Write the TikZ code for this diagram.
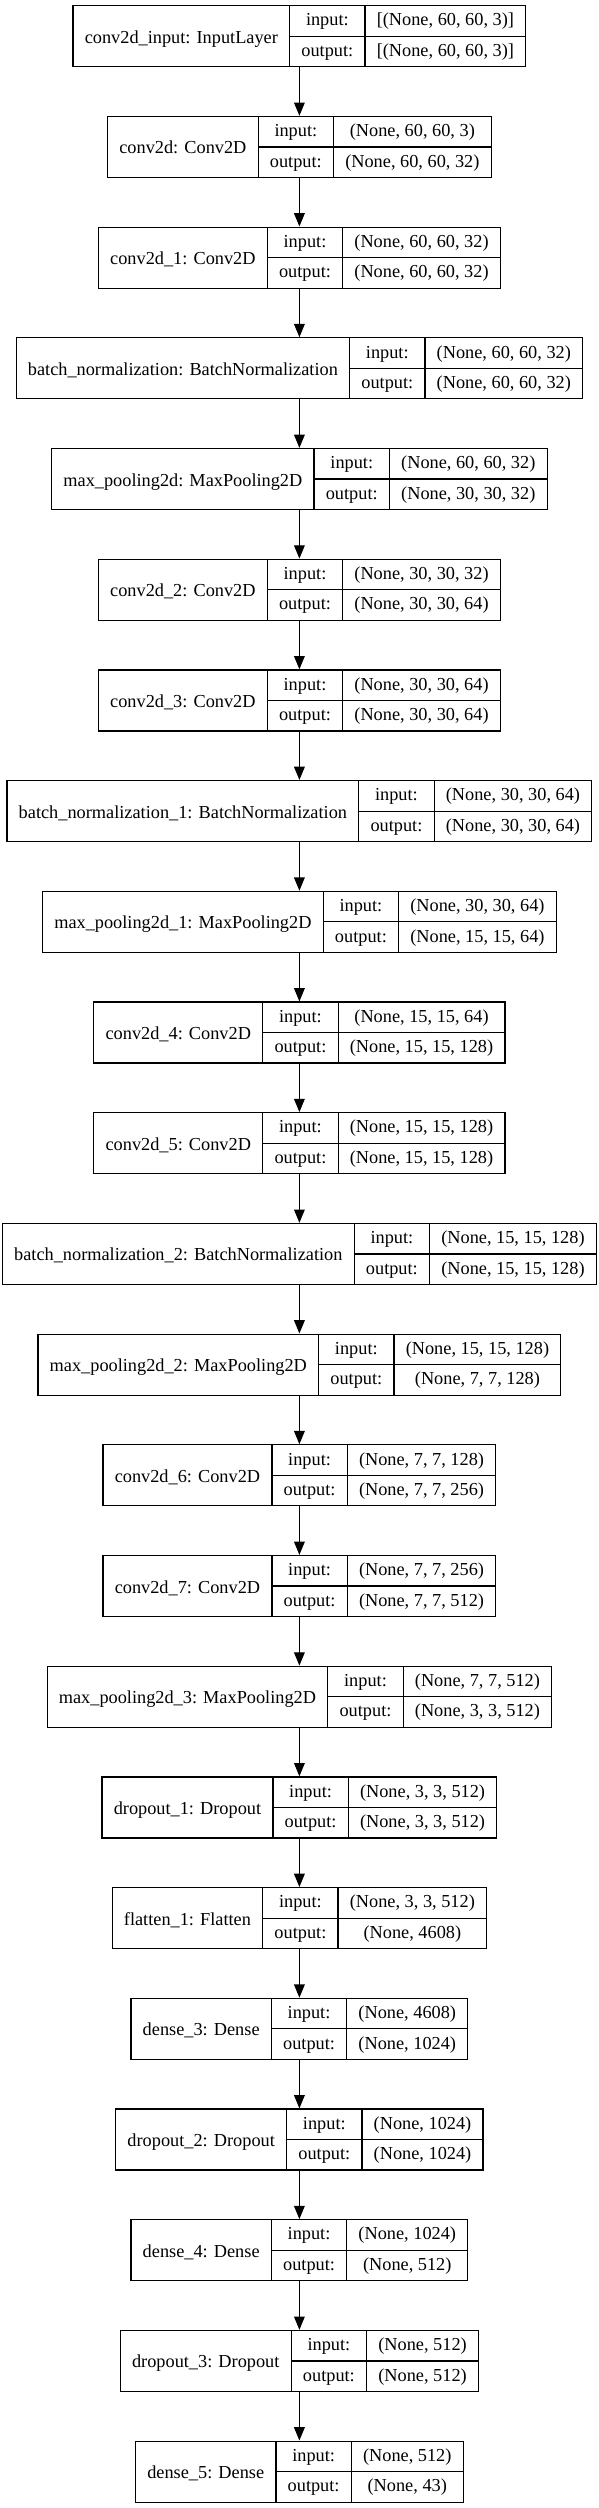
\documentclass[tikz,border=0pt]{standalone}
\usepackage{fontspec}
\setmainfont{Liberation Serif}
\usetikzlibrary{arrows.meta}
\newcommand\lf{\fontsize{18.3pt}{22pt}\selectfont}
\newdimen\lwC \newdimen\lwD
\def\padw{23.5}
\def\cx{299.4}
\tikzset{
  box/.style={draw, line width=1.2pt, minimum height=61pt, inner sep=0pt},
  cellline/.style={line width=1.2pt},
  txt/.style={font=\lf, inner sep=0pt, text height=10pt, text depth=0pt},
  arr/.style={line width=1.2pt, -{Triangle[length=13.3pt,width=10.7pt]}}
}
\newcommand\measurelayer[5]{%
  \setbox0=\hbox{\lf #3}\expandafter\xdef\csname wA#1\endcsname{\the\wd0}%
  \setbox0=\hbox{\lf #4}\lwC=\wd0
  \setbox0=\hbox{\lf #5}\lwD=\wd0
  \ifdim\lwD>\lwC \lwC=\lwD\fi
  \expandafter\xdef\csname wC#1\endcsname{\the\lwC}%
}
\newcommand\drawlayer[5]{%
  \edef\wa{\csname wA#1\endcsname}%
  \edef\wc{\csname wC#1\endcsname}%
  \pgfmathsetmacro\Wt{\wa+\wB+\wc+3*\padw}%
  \pgfmathsetmacro\xl{\cx-\Wt/2}%
  \pgfmathsetmacro\xa{\xl+\wa+\padw}%
  \pgfmathsetmacro\xb{\xa+\wB+\padw}%
  \pgfmathsetmacro\xr{\xl+\Wt}%
  \pgfmathsetmacro\yt{5.7+110.7*#2}%
  \pgfmathsetmacro\yb{\yt+61}%
  \pgfmathsetmacro\ym{\yt+30.5}%
  \pgfmathsetmacro\yu{\yt+15.25}%
  \pgfmathsetmacro\yl{\yt+45.75}%
  \node[box, minimum width=\Wt pt] (#1) at (\cx,\ym) {};
  \draw[cellline] (\xa,\yt) -- (\xa,\yb) (\xb,\yt) -- (\xb,\yb) (\xa,\ym) -- (\xr,\ym);
  \node[txt] (#1-name) at ({(\xl+\xa)/2},\ym+2) {#3};
  \node[txt] (#1-il) at ({(\xa+\xb)/2},\yu) {input:};
  \node[txt] (#1-ol) at ({(\xa+\xb)/2},\yl) {output:};
  \node[txt] (#1-iv) at ({(\xb+\xr)/2},\yu) {#4};
  \node[txt] (#1-ov) at ({(\xb+\xr)/2},\yl) {#5};
}
\def\layers{%
\layer{L1}{0}{conv2d\_input: InputLayer}{[(None, 60, 60, 3)]}{[(None, 60, 60, 3)]}
\layer{L2}{1}{conv2d: Conv2D}{(None, 60, 60, 3)}{(None, 60, 60, 32)}
\layer{L3}{2}{conv2d\_1: Conv2D}{(None, 60, 60, 32)}{(None, 60, 60, 32)}
\layer{L4}{3}{batch\_normalization: BatchNormalization}{(None, 60, 60, 32)}{(None, 60, 60, 32)}
\layer{L5}{4}{max\_pooling2d: MaxPooling2D}{(None, 60, 60, 32)}{(None, 30, 30, 32)}
\layer{L6}{5}{conv2d\_2: Conv2D}{(None, 30, 30, 32)}{(None, 30, 30, 64)}
\layer{L7}{6}{conv2d\_3: Conv2D}{(None, 30, 30, 64)}{(None, 30, 30, 64)}
\layer{L8}{7}{batch\_normalization\_1: BatchNormalization}{(None, 30, 30, 64)}{(None, 30, 30, 64)}
\layer{L9}{8}{max\_pooling2d\_1: MaxPooling2D}{(None, 30, 30, 64)}{(None, 15, 15, 64)}
\layer{L10}{9}{conv2d\_4: Conv2D}{(None, 15, 15, 64)}{(None, 15, 15, 128)}
\layer{L11}{10}{conv2d\_5: Conv2D}{(None, 15, 15, 128)}{(None, 15, 15, 128)}
\layer{L12}{11}{batch\_normalization\_2: BatchNormalization}{(None, 15, 15, 128)}{(None, 15, 15, 128)}
\layer{L13}{12}{max\_pooling2d\_2: MaxPooling2D}{(None, 15, 15, 128)}{(None, 7, 7, 128)}
\layer{L14}{13}{conv2d\_6: Conv2D}{(None, 7, 7, 128)}{(None, 7, 7, 256)}
\layer{L15}{14}{conv2d\_7: Conv2D}{(None, 7, 7, 256)}{(None, 7, 7, 512)}
\layer{L16}{15}{max\_pooling2d\_3: MaxPooling2D}{(None, 7, 7, 512)}{(None, 3, 3, 512)}
\layer{L17}{16}{dropout\_1: Dropout}{(None, 3, 3, 512)}{(None, 3, 3, 512)}
\layer{L18}{17}{flatten\_1: Flatten}{(None, 3, 3, 512)}{(None, 4608)}
\layer{L19}{18}{dense\_3: Dense}{(None, 4608)}{(None, 1024)}
\layer{L20}{19}{dropout\_2: Dropout}{(None, 1024)}{(None, 1024)}
\layer{L21}{20}{dense\_4: Dense}{(None, 1024)}{(None, 512)}
\layer{L22}{21}{dropout\_3: Dropout}{(None, 512)}{(None, 512)}
\layer{L23}{22}{dense\_5: Dense}{(None, 512)}{(None, 43)}
}
\begin{document}
\let\layer\measurelayer
\layers
\setbox0=\hbox{\lf output:}\xdef\wB{\the\wd0}%
\begin{tikzpicture}[x=1pt,y=-1pt]
\useasboundingbox[fill=white] (0,0) rectangle (599,2508);
\let\layer\drawlayer
\layers
\foreach \i [evaluate=\i as \j using int(\i+1)] in {1,...,22}
  \draw[arr] (L\i.south) -- (L\j.north);
\end{tikzpicture}
\end{document}
